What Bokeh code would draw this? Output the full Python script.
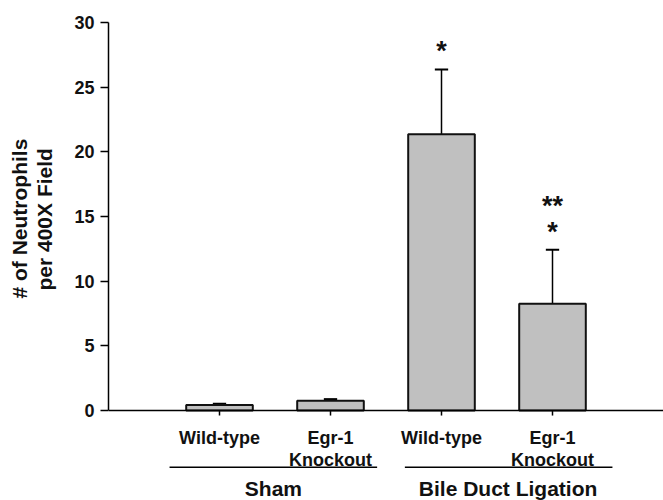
from bokeh.plotting import figure
from bokeh.models import Range1d, FixedTicker, Span, ColumnDataSource, Title
from bokeh.core.properties import value
from bokeh.embed import file_html
from bokeh.resources import INLINE

# ---- data ----
categories = ["Sham Wild-type", "Sham Egr-1 Knockout", "BDL Wild-type", "BDL Egr-1 Knockout"]
label_line1 = ["Wild-type", "Egr-1", "Wild-type", "Egr-1"]
label_line2 = ["", "Knockout", "", "Knockout"]
means = [0.42, 0.75, 21.35, 8.25]
errors = [0.10, 0.12, 5.02, 4.18]
stars_near = ["", "", "*", "*"]
stars_far = ["", "", "", "**"]
groups = ["Sham", "Bile Duct Ligation"]
y_ticks = [0, 5, 10, 15, 20, 25, 30]
y_title = ["# of Neutrophils", "per 400X Field"]

FONT = "Liberation Sans"
TXT = "#111111"
pos = [i + 1 for i in range(len(categories))]

p = figure(width=663, height=500, x_range=Range1d(0, 5), y_range=Range1d(-6.97, 30),
           x_axis_type=None, output_backend="svg", toolbar_location=None,
           min_border_left=108, min_border_right=0, min_border_top=22, min_border_bottom=0)
p.outline_line_color = None
p.grid.visible = False
p.background_fill_color = "white"

ax = p.yaxis[0]
ax.bounds = (0, 30)
ax.ticker = FixedTicker(ticks=y_ticks)
ax.minor_tick_line_color = None
ax.major_tick_in = 0
ax.major_tick_out = 8
ax.major_tick_line_width = 1.5
ax.axis_line_width = 1.5
ax.major_label_standoff = 6
ax.major_label_text_font = FONT
ax.major_label_text_font_size = "18px"
ax.major_label_text_font_style = "bold"
ax.major_label_text_color = TXT
# blank axis label only used as a small spacer between tick labels and the title
ax.axis_label = " "
ax.axis_label_text_font_size = "8px"
ax.axis_label_standoff = 4

# y-axis title, two lines (inner line added first), centred on the 0-30 axis
for line, off in ((y_title[1], 210), (y_title[0], 202)):
    p.add_layout(Title(text=line, align="left", offset=off, standoff=0,
                       text_font=FONT, text_font_size="21px", text_font_style="bold",
                       text_color=TXT), "left")

# x axis line
p.add_layout(Span(location=0, dimension="width", line_color="black", line_width=1.5))

src = ColumnDataSource(dict(
    x=pos, top=means, err_top=[m + e for m, e in zip(means, errors)],
    cl=[x - 0.06 for x in pos], cr=[x + 0.06 for x in pos],
    l1=label_line1, l2=label_line2,
    s1=stars_near, s2=stars_far,
    s1y=[m + e + 1.4 for m, e in zip(means, errors)],
    s2y=[m + e + 3.35 for m, e in zip(means, errors)],
))

# category ticks
p.segment(x0="x", y0=0, x1="x", y1=-0.4, source=src, line_color="black", line_width=1.5)

# error bars (upward only)
p.segment(x0="x", y0="top", x1="x", y1="err_top", source=src, line_color="black", line_width=1.5)
p.segment(x0="cl", y0="err_top", x1="cr", y1="err_top", source=src, line_color="black", line_width=2)

# bars
p.vbar(x="x", top="top", bottom=0, width=0.6, source=src,
       fill_color="#c0c0c0", line_color=TXT, line_width=2)

# significance stars
for col_t, col_y in (("s1", "s1y"), ("s2", "s2y")):
    p.text(x="x", y=col_y, text=col_t, source=src, text_font=value(FONT), text_font_size="27px",
           text_font_style="bold", text_align="center", text_baseline="alphabetic", text_color=TXT)

# category labels
for col, yy in (("l1", -2.17), ("l2", -3.8)):
    p.text(x="x", y=yy, text=col, source=src, text_font=value(FONT), text_font_size="18px",
           text_font_style="bold", text_align="center", text_baseline="alphabetic", text_color=TXT)

# group lines and labels
gsrc = ColumnDataSource(dict(x0=[0.55, 2.67], x1=[2.42, 4.54], xc=[1.486, 3.60], name=groups))
p.segment(x0="x0", y0=-4.4, x1="x1", y1=-4.4, source=gsrc, line_color="black", line_width=1.5)
p.text(x="xc", y=-6.05, text="name", source=gsrc, text_font=value(FONT), text_font_size="21px",
       text_font_style="bold", text_align="center", text_baseline="alphabetic", text_color=TXT)

open("out.html", "w").write(file_html(p, INLINE))
